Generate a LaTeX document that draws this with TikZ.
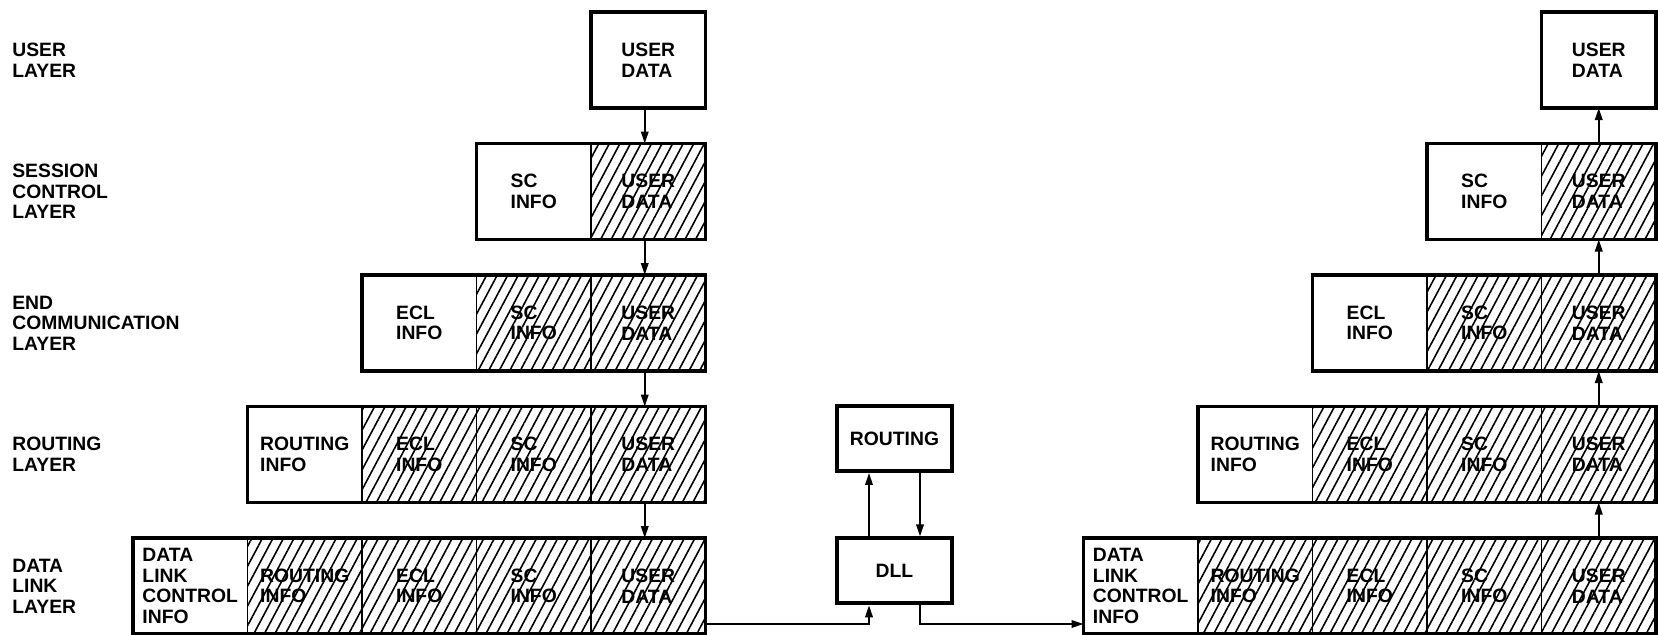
\documentclass[tikz,border=0pt]{standalone}
\usepackage{fontspec}
\setmainfont{Liberation Sans}
\usepackage{tikz}
\usetikzlibrary{arrows.meta, positioning, patterns.meta}
\newcommand\txtfont{\fontsize{11}{11.7}\selectfont\bfseries}
\newcommand\celltext[1]{\ifcase#1\or USER\\DATA\or SC\\INFO\or ECL\\INFO\or
  ROUTING\\INFO\or DATA\\LINK\\CONTROL\\INFO\fi}
\newcommand\layertext[1]{\ifcase#1\or USER\\LAYER\or SESSION\\CONTROL\\LAYER\or
  END\\COMMUNICATION\\LAYER\or ROUTING\\LAYER\or DATA\\LINK\\LAYER\fi}
\tikzset{
  cell/.style={rectangle, draw, line width=0.7pt, minimum width=2.29cm,
               minimum height=1.92cm, inner sep=0pt, outer sep=0pt,
               align=left, font=\txtfont},
  hatched/.style={cell, pattern={Lines[angle=62, distance=5.3pt, line width=0.9pt]}},
  rowframe/.style={line width=2.2pt},
  layerlbl/.style={anchor=west, align=left, inner sep=0pt, font=\txtfont},
  proc/.style={rectangle, draw, line width=2.2pt, minimum width=2.3cm,
               minimum height=1.3cm, font=\txtfont},
  flow/.style={-{Triangle[length=2.4mm, width=1.5mm]}, line width=1.1pt}
}

\begin{document}
\begin{tikzpicture}
  \fill[white] (0,0) rectangle (33.16,-12.7);
  \useasboundingbox (0,0) rectangle (33.16,-12.7);

  % layer names
  \foreach \r in {1,...,5}
    \node[layerlbl] (lbl\r) at (0.24,{-1.2-2.63*(\r-1)}) {\layertext{\r}};

  % the two stacks of messages
  \foreach \side/\xo in {L/2.66, R/21.67} {
    \foreach \r in {1,...,5} {
      \pgfmathtruncatemacro\first{6-\r}
      \foreach \j in {\first,...,5} {
        \pgfmathtruncatemacro\k{6-\j}
        \ifnum\j=\first
          \node[cell] (\side-\r-\j) at ({\xo+2.29*(\j-0.5)},{-1.2-2.63*(\r-1)}) {\celltext{\k}};
        \else
          \node[hatched] (\side-\r-\j) at ({\xo+2.29*(\j-0.5)},{-1.2-2.63*(\r-1)}) {\celltext{\k}};
        \fi
      }
      \draw[rowframe] (\side-\r-\first.north west) rectangle (\side-\r-5.south east);
    }
  }

  % down the sending side, up the receiving side
  \foreach \r [evaluate=\r as \n using int(\r+1)] in {1,...,4} {
    \draw[flow] ([xshift=-0.07cm]L-\r-5.south) -- ([xshift=-0.07cm]L-\n-5.north);
    \draw[flow] (R-\n-5.north) -- (R-\r-5.south);
  }

  % intermediate node
  \node[proc] (rout) at (17.89,-8.77) {ROUTING};
  \node[proc, below=1.27cm of rout] (dll) {DLL};
  \draw[flow] ([xshift=-0.51cm]dll.north) -- ([xshift=-0.51cm]rout.south);
  \draw[flow] ([xshift=0.51cm]rout.south) -- ([xshift=0.51cm]dll.north);
  \draw[flow] ([yshift=0.2cm]L-5-5.south east) -| ([xshift=-0.51cm]dll.south);
  \draw[flow] ([xshift=0.51cm]dll.south) |- ([yshift=0.2cm]R-5-1.south west);
\end{tikzpicture}
\end{document}
